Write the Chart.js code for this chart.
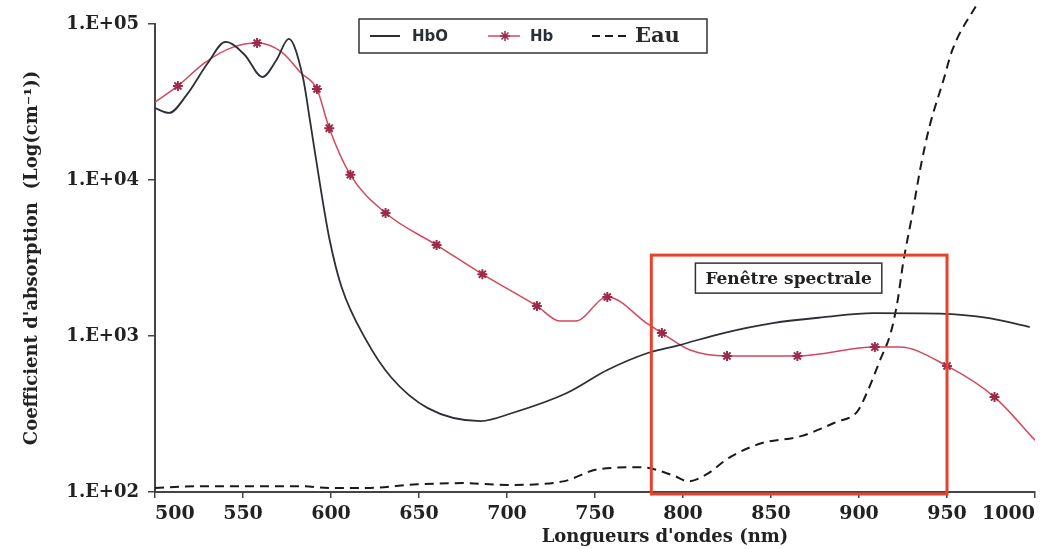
<!DOCTYPE html>
<html lang="fr">
<head>
    <meta charset="UTF-8">
    <title>Coefficient d'absorption - HbO, Hb, Eau</title>
    <style>
        html, body { margin: 0; padding: 0; background: #fff; }
        #wrap { width: 1046px; height: 549px; position: relative; }
    </style>
</head>
<body>
<div id="wrap"><canvas id="absorptionChart"></canvas></div>

<script src="https://cdn.jsdelivr.net/npm/chart.js@4"></script>
<script>
    // HbO : longueurs d'onde (nm) et coefficients d'absorption (cm-1)
    const hboNm  = [500, 508, 518, 530, 540, 551, 561, 569, 576, 584, 588, 594, 599, 606, 620, 634, 655, 685, 703, 734, 757, 780, 798, 823, 851, 880, 908, 946, 974, 997];
    const hboVal = [28900, 26900, 35100, 56200, 76700, 63300, 45700, 58700, 80200, 45700, 24300, 9000, 4250, 2060, 940, 546, 345, 285, 321, 431, 605, 778, 875, 1045, 1210, 1320, 1400, 1390, 1300, 1140];

    // Hb
    const hbNm  = [500, 513, 528, 544, 558, 572, 583, 592, 599, 611, 631, 660, 686, 717, 730, 739, 757, 780, 788, 804, 825, 865, 909, 923, 950, 977, 1000];
    const hbVal = [31600, 40100, 56200, 70800, 75500, 66100, 48500, 38300, 21500, 10800, 6140, 3830, 2490, 1556, 1248, 1248, 1778, 1194, 1045, 813, 745, 745, 849, 849, 643, 406, 215];
    // points marqués d'une étoile
    const hbStarNm = [513, 558, 592, 599, 611, 631, 660, 686, 717, 757, 788, 825, 865, 909, 950, 977];

    // Eau
    const eauNm  = [500, 525, 560, 582, 600, 620, 649, 675, 700, 732, 752, 776, 795, 803, 813, 827, 845, 867, 887, 899, 905, 912, 918, 922, 925, 930, 935, 940, 948, 953, 968];
    const eauVal = [106, 109, 109, 109, 106, 106, 112, 114, 111, 117, 140, 144, 127, 117, 129, 168, 206, 228, 281, 328, 446, 702, 1045, 1700, 2900, 5800, 12100, 21900, 43700, 68000, 140000];

    // axes
    const xTicks = [500, 550, 600, 650, 700, 750, 800, 850, 900, 950, 1000];
    const yTicks = [100, 1000, 10000, 100000];

    // fenêtre spectrale
    const windowNm = [782, 950];
    const windowTop = 3300;

    const serif = '"DejaVu Serif", "Liberation Serif", serif';

    const toPoints = (xs, ys) => xs.map((x, i) => ({ x: x, y: ys[i] }));

    // cadre rouge + étiquette
    const spectralWindow = {
        id: 'spectralWindow',
        afterDatasetsDraw(chart) {
            const { ctx, scales: { x, y } } = chart;
            const x0 = x.getPixelForValue(windowNm[0]);
            const x1 = x.getPixelForValue(windowNm[1]);
            const y0 = y.getPixelForValue(windowTop);
            const y1 = y.getPixelForValue(yTicks[0]);
            ctx.save();
            ctx.strokeStyle = '#e5432b';
            ctx.lineWidth = 3;
            ctx.strokeRect(x0, y0, x1 - x0, y1 - y0 + 2);

            const label = 'Fenêtre spectrale';
            ctx.font = 'bold 17px ' + serif;
            const w = ctx.measureText(label).width;
            const cx = x.getPixelForValue(860);
            const cy = y.getPixelForValue(2350);
            ctx.fillStyle = '#fff';
            ctx.fillRect(cx - w / 2 - 10, cy - 15, w + 20, 30);
            ctx.strokeStyle = '#333';
            ctx.lineWidth = 1.5;
            ctx.strokeRect(cx - w / 2 - 10, cy - 15, w + 20, 30);
            ctx.fillStyle = '#222';
            ctx.textAlign = 'center';
            ctx.textBaseline = 'middle';
            ctx.fillText(label, cx, cy + 1);
            ctx.restore();
        }
    };

    // légende encadrée + titre de l'axe x
    const boxLegend = {
        id: 'boxLegend',
        afterDraw(chart) {
            const { ctx, chartArea } = chart;
            const ds = chart.data.datasets;
            const bx = chartArea.left + 204, by = 19, bw = 348, bh = 34;
            const cy = by + bh / 2;
            ctx.save();
            ctx.fillStyle = '#fff';
            ctx.fillRect(bx, by, bw, bh);
            ctx.strokeStyle = '#333';
            ctx.lineWidth = 1.5;
            ctx.strokeRect(bx, by, bw, bh);

            ctx.textBaseline = 'middle';
            ctx.textAlign = 'left';

            // HbO
            ctx.strokeStyle = ds[0].borderColor;
            ctx.lineWidth = 2;
            ctx.beginPath(); ctx.moveTo(bx + 11, cy); ctx.lineTo(bx + 41, cy); ctx.stroke();
            ctx.fillStyle = '#2a2f36';
            ctx.font = 'bold 15px "DejaVu Sans", sans-serif';
            ctx.fillText(ds[0].label, bx + 53, cy + 1);

            // Hb
            ctx.strokeStyle = ds[1].borderColor;
            ctx.lineWidth = 1.5;
            ctx.beginPath(); ctx.moveTo(bx + 129, cy); ctx.lineTo(bx + 161, cy); ctx.stroke();
            ctx.strokeStyle = ds[1].pointBorderColor;
            ctx.fillStyle = ds[1].pointBorderColor;
            Chart.helpers.drawPoint(ctx, { pointStyle: 'star', radius: 5, borderWidth: 2 }, bx + 146, cy);
            ctx.fillStyle = '#2a2f36';
            ctx.fillText(ds[1].label, bx + 171, cy + 1);

            // Eau
            ctx.strokeStyle = ds[2].borderColor;
            ctx.lineWidth = 2;
            ctx.setLineDash([8, 5]);
            ctx.beginPath(); ctx.moveTo(bx + 233, cy); ctx.lineTo(bx + 270, cy); ctx.stroke();
            ctx.setLineDash([]);
            ctx.fillStyle = '#2a2a2a';
            ctx.font = 'bold 21px ' + serif;
            ctx.fillText(ds[2].label, bx + 276, cy + 1);

            // titre axe x
            ctx.font = 'bold 18px ' + serif;
            ctx.textAlign = 'center';
            ctx.fillStyle = '#222';
            ctx.fillText("Longueurs d'ondes (nm)", (chartArea.left + chartArea.right) / 2 + 70, 537);
            ctx.restore();
        }
    };

    const ctx = document.getElementById('absorptionChart').getContext('2d');
    const chart = new Chart(ctx, {
        type: 'line',
        data: {
            datasets: [{
                label: 'HbO',
                data: toPoints(hboNm, hboVal),
                borderColor: '#2b3036',
                borderWidth: 1.8,
                pointRadius: 0,
                cubicInterpolationMode: 'monotone'
            }, {
                label: 'Hb',
                data: toPoints(hbNm, hbVal),
                borderColor: '#d4475c',
                borderWidth: 1.5,
                pointStyle: 'star',
                pointRadius: c => hbStarNm.includes(hbNm[c.dataIndex]) ? 5 : 0,
                pointBorderColor: '#9c2a4a',
                pointBackgroundColor: '#9c2a4a',
                pointBorderWidth: 2,
                cubicInterpolationMode: 'monotone'
            }, {
                label: 'Eau',
                data: toPoints(eauNm, eauVal),
                borderColor: '#1a1a1a',
                borderWidth: 2,
                borderDash: [9, 6],
                pointRadius: 0,
                cubicInterpolationMode: 'monotone',
                clip: { left: 2, top: false, right: 2, bottom: 2 }
            }]
        },
        options: {
            responsive: true,
            maintainAspectRatio: false,
            animation: false,
            events: [],
            layout: { padding: { left: 4, right: 11, top: 24, bottom: 0 } },
            plugins: {
                legend: { display: false },
                tooltip: { enabled: false }
            },
            scales: {
                x: {
                    type: 'linear',
                    min: 500,
                    max: 1000,
                    afterBuildTicks: s => { s.ticks = xTicks.map(v => ({ value: v })); },
                    afterFit: s => { s.height = 57; },
                    grid: { drawOnChartArea: false, drawTicks: true, tickLength: 6, color: '#444', lineWidth: 1.5 },
                    border: { display: true, color: '#444', width: 2 },
                    ticks: {
                        align: 'inner',
                        padding: 5,
                        color: '#222',
                        font: { family: serif, size: 19, weight: 'bold' },
                        maxRotation: 0,
                        callback: v => String(v)
                    }
                },
                y: {
                    type: 'logarithmic',
                    min: 100,
                    max: 100000,
                    afterBuildTicks: s => { s.ticks = yTicks.map(v => ({ value: v })); },
                    afterFit: s => { s.width = 151; },
                    grid: { drawOnChartArea: false, drawTicks: true, tickLength: 7, color: '#444', lineWidth: 1.5 },
                    border: { display: true, color: '#444', width: 2 },
                    ticks: {
                        padding: 9,
                        color: '#222',
                        font: { family: serif, size: 18, weight: 'bold' },
                        callback: v => '1.E+' + String(Math.round(Math.log10(v))).padStart(2, '0')
                    },
                    title: {
                        display: true,
                        text: "Coefficient d'absorption  (Log(cm⁻¹))",
                        color: '#222',
                        font: { family: serif, size: 18, weight: 'bold' },
                        padding: { top: 18, bottom: 4 }
                    }
                }
            }
        },
        plugins: [spectralWindow, boxLegend]
    });
</script>
</body>
</html>
